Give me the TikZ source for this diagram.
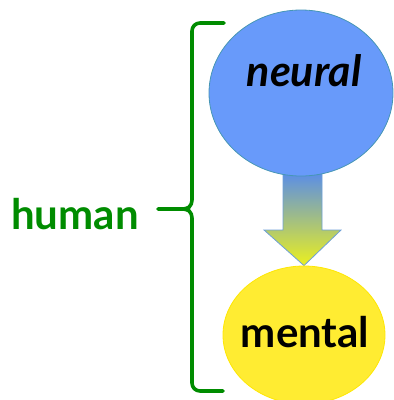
\documentclass[tikz,border=0pt]{standalone}
\usepackage{fontspec}
\setmainfont{Lato}
\usetikzlibrary{shapes.geometric,calc}
\pgfdeclarelayer{bg}
\pgfsetlayers{bg,main}
\definecolor{bluefill}{RGB}{104,154,250}
\definecolor{blueedge}{RGB}{70,150,180}
\definecolor{yellowfill}{RGB}{255,236,50}
\definecolor{bracegreen}{RGB}{0,140,0}
\definecolor{arrowtop}{RGB}{80,135,245}
\definecolor{arrowbot}{RGB}{235,240,30}
\definecolor{arrowedge}{RGB}{110,160,215}
\tikzset{
  blob/.style={ellipse, inner sep=0pt},
  lbl/.style={anchor=base, inner sep=0pt, font=\fontsize{42}{46}\selectfont\bfseries},
}
\begin{document}
\begin{tikzpicture}[x=1pt,y=-1pt]
\useasboundingbox (0,0) rectangle (394,400);
\node[blob, fill=yellowfill, draw=yellow!90!orange, line width=0.8pt, minimum width=162pt, minimum height=138pt] (mentalblob) at (304,335) {};
\node[blob, fill=bluefill, draw=blueedge, line width=0.8pt, minimum width=184pt, minimum height=166pt] (neuralblob) at (301,93) {};
\node[lbl, font=\fontsize{43}{46}\selectfont\bfseries\itshape] (neuraltxt) at (304,86) {neural};
\node[lbl] (mentaltxt) at (305,347) {mental};
\begin{pgfonlayer}{bg}
\draw[arrowedge, line width=0.8pt, top color=arrowtop, bottom color=arrowbot]
  ($(neuralblob.south)+(-18,-10)$) -- ($(neuralblob.south)+(21,-10)$) -- (322,230) -- (341,230)
  -- (mentalblob.north) -- (264,230) -- (283,230) -- cycle;
\end{pgfonlayer}
\node[anchor=base, inner sep=0pt, text=bracegreen, font=\fontsize{42}{46}\selectfont\bfseries] (human) at (75,229) {human};
\coordinate (btop) at (224,23);
\coordinate (bbot) at (223,391);
\coordinate (btip) at (158,209);
\draw[bracegreen, line width=3.6pt, line cap=round, rounded corners=8pt]
  (btop) -- (192,23) -- (192,200);
\draw[bracegreen, line width=3.6pt, line cap=round]
  (192,198) .. controls (192,208) and (188,209) .. (180,209) -- (btip);
\draw[bracegreen, line width=3.6pt, line cap=round]
  (192,220) .. controls (192,210) and (188,209) .. (180,209);
\draw[bracegreen, line width=3.6pt, line cap=round, rounded corners=8pt]
  (192,218) -- (192,391) -- (bbot);
\end{tikzpicture}
\end{document}
